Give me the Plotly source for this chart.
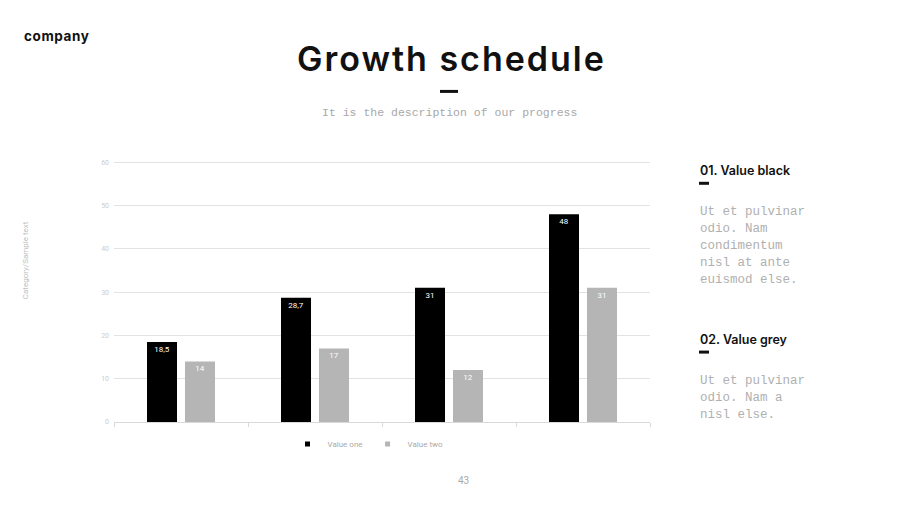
import plotly.graph_objects as go

categories = ["Category 1", "Category 2", "Category 3", "Category 4"]
value_one = [18.5, 28.7, 31, 48]
value_two = [14, 17, 12, 31]
series_names = ["Value one", "Value two"]
series_colors = ["#000000", "#b5b5b5"]
y_ticks = [0, 10, 20, 30, 40, 50, 60]

OFF = 8  # page body offset
W, H = 892, 498
Y_TOP = 61
# plot area in page pixels: x 114..650, y (60 at 162) .. 422
PX_PER_UNIT = 260 / 60
PH = PX_PER_UNIT * Y_TOP
L, R, B = 114 - OFF, 250, 84
T = H - B - PH
PW = W - L - R
PLOT_BOTTOM = 422

def fmt(v):
    return ("%g" % v).replace(".", ",")

fig = go.Figure()
for name, vals, col in zip(series_names, [value_one, value_two], series_colors):
    fig.add_trace(go.Bar(
        x=categories, y=vals, name=name, showlegend=False,
        marker=dict(color=col, line=dict(width=0)),
        text=[fmt(v) for v in vals], textposition="inside", insidetextanchor="end",
        textfont=dict(color="white", size=8, family="Roboto"), textangle=0,
    ))
for name, col in zip(series_names, series_colors):
    fig.add_trace(go.Scatter(
        x=[None], y=[None], mode="markers", name=name,
        marker=dict(symbol="square", size=5, color=col),
    ))

fig.update_layout(
    width=W, height=H,
    margin=dict(l=L, r=R, t=T, b=B),
    paper_bgcolor="white", plot_bgcolor="white",
    barmode="group", bargap=0.433, bargroupgap=0.21,
    uniformtext=dict(minsize=8, mode="show"),
    showlegend=True,
    legend=dict(orientation="h", x=(368 - 114) / 536, xanchor="center",
                y=-(444 - PLOT_BOTTOM) / PH, yanchor="middle",
                font=dict(size=8, color="#aaaaaa", family="Roboto"),
                itemwidth=30, tracegroupgap=0, bgcolor="rgba(0,0,0,0)"),
    xaxis=dict(showticklabels=False, tickson="boundaries", ticks="outside", ticklen=4,
               tickcolor="#d9d9d9", showline=True, linecolor="#d9d9d9", showgrid=False),
    yaxis=dict(range=[0, Y_TOP], tickvals=y_ticks, showgrid=True, gridcolor="#e3e3e3",
               tickfont=dict(size=7, color="#cccccc", family="Roboto"), zeroline=False,
               ticks="", ticklabelstandoff=4),
    font=dict(family="Roboto"),
)

def px_ann(text, x, y, size, color, family, xanchor="left", weight=None, angle=0):
    xp = (x - 114) / 536
    yp = (PLOT_BOTTOM - y) / PH
    d = dict(text=text, x=xp, y=yp, xref="paper", yref="paper", xanchor=xanchor,
             yanchor="middle", showarrow=False, textangle=angle,
             font=dict(size=size, color=color, family=family))
    if weight:
        d["font"]["weight"] = weight
    return d

anns = [
    px_ann('<span style="letter-spacing:0.6px">company</span>', 22, 36, 13.5, "#111111", "Inter", weight=700),
    px_ann('<span style="letter-spacing:2px">Growth schedule</span>', 451, 58, 34, "#111111", "Inter",
           xanchor="center", weight=600),
    px_ann("It is the description of our progress", 449, 112, 11.5, "#a8a8a8", "Liberation Mono", xanchor="center"),
    px_ann("Category/Sample text", 25, 260, 8, "#c0c0c0", "Roboto", xanchor="center", angle=-90),
    px_ann("01. Value black", 698, 170, 12.5, "#111111", "Inter", weight=600),
    px_ann("02. Value grey", 698, 339, 12.5, "#111111", "Inter", weight=600),
    px_ann("43", 463, 481, 10, "#aaaaaa", "Roboto", xanchor="center"),
]
lines1 = ["Ut et pulvinar", "odio. Nam", "condimentum", "nisl at ante", "euismod else."]
lines2 = ["Ut et pulvinar", "odio. Nam a", "nisl else."]
for i, t in enumerate(lines1):
    anns.append(px_ann(t, 698, 212 + 17 * i, 12.5, "#b0b0b0", "Liberation Mono"))
for i, t in enumerate(lines2):
    anns.append(px_ann(t, 698, 381 + 17 * i, 12.5, "#b0b0b0", "Liberation Mono"))
fig.update_layout(annotations=anns)

def px_line(x0, x1, y):
    return dict(type="line", xref="paper", yref="paper",
                x0=(x0 - 114) / 536, x1=(x1 - 114) / 536,
                y0=(PLOT_BOTTOM - y) / PH, y1=(PLOT_BOTTOM - y) / PH,
                line=dict(color="#111111", width=3))

fig.update_layout(shapes=[px_line(440, 458, 91), px_line(699, 709, 183), px_line(699, 709, 352)])

fig.write_html("out.html")
